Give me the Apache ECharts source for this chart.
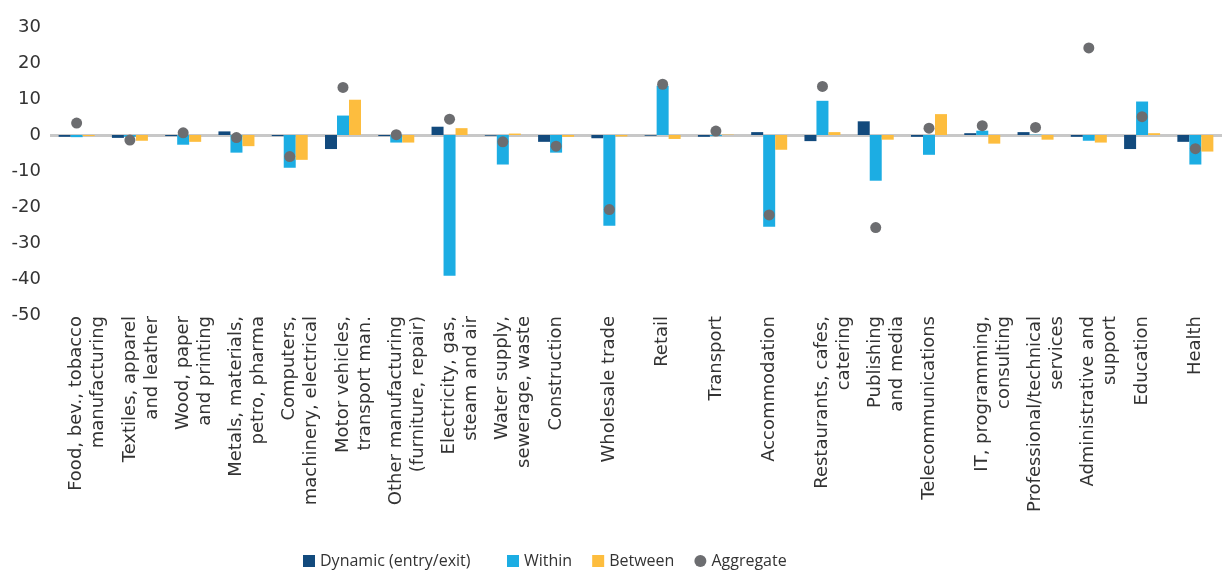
<!DOCTYPE html>
<html>
<head>
<meta charset="utf-8">
<script src="https://cdn.jsdelivr.net/npm/echarts@6/dist/echarts.min.js"></script>
<style>
  html, body { margin: 0; padding: 0; background: #fff; }
  #myChart { width: 1225px; height: 571px; }
</style>
</head>
<body>
<div id="myChart"></div>
<script>
// sectors on the x axis
var categories = [
  'Food, bev., tobacco\nmanufacturing',
  'Textiles, apparel\nand leather',
  'Wood, paper\nand printing',
  'Metals, materials,\npetro, pharma',
  'Computers,\nmachinery, electrical',
  'Motor vehicles,\ntransport man.',
  'Other manufacturing\n(furniture, repair)',
  'Electricity, gas,\nsteam and air',
  'Water supply,\nsewerage, waste',
  'Construction',
  'Wholesale trade',
  'Retail',
  'Transport',
  'Accommodation',
  'Restaurants, cafes,\ncatering',
  'Publishing\nand media',
  'Telecommunications',
  'IT, programming,\nconsulting',
  'Professional/technical\nservices',
  'Administrative and\nsupport',
  'Education',
  'Health'
];

var dynamicVals = [-0.5, -0.8, -0.3, 1.0, -0.3, -3.9, -0.3, 2.3, -0.2, -1.9, -0.9, -0.2, -0.5, 0.8, -1.7, 3.8, -0.5, 0.5, 0.8, -0.5, -3.9, -1.9];
var withinVals = [-0.6, -0.5, -2.7, -4.9, -9.1, 5.4, -2.1, -39.1, -8.2, -4.9, -25.2, 13.7, -0.3, -25.5, 9.5, -12.7, -5.5, 1.2, 0.1, -1.6, 9.3, -8.2];
var betweenVals = [-0.3, -1.6, -1.9, -3.1, -6.9, 9.8, -2.1, 1.9, 0.4, -0.5, -0.4, -1.1, 0.1, -4.1, 0.8, -1.3, 5.8, -2.4, -1.3, -2.1, 0.5, -4.6];
var aggregateVals = [3.3, -1.4, 0.6, -0.7, -6.0, 13.2, 0.1, 4.4, -1.9, -3.1, -20.7, 14.1, 1.1, -22.2, 13.5, -25.7, 1.9, 2.6, 2.1, 24.2, 5.1, -3.8];

var yTicks = [-50, -40, -30, -20, -10, 0, 10, 20, 30];

var textColor = '#333333';
var fontName = 'DejaVu Sans';

var myChart = echarts.init(document.getElementById('myChart'));

// only the zero gridline is visible
var splitColors = yTicks.map(function (t) { return t === 0 ? '#c8c8c8' : 'rgba(0,0,0,0)'; });

// two-line labels: first line sits on the category centre, second to its right
var xData = categories.map(function (c) {
  return c.indexOf('\n') >= 0 ? '\n' + c : c;
});

var legendText = { fontSize: 15, color: textColor, fontFamily: 'Open Sans' };

var option = {
  animation: false,
  textStyle: { fontFamily: fontName },
  legend: [
    {
      top: 548,
      left: 298,
      itemWidth: 12,
      itemHeight: 12,
      textStyle: { fontSize: 16, color: textColor, fontFamily: 'Open Sans' },
      data: [{ name: 'Dynamic (entry/exit)', icon: 'rect' }]
    },
    {
      top: 548,
      left: 502,
      itemWidth: 12,
      itemHeight: 12,
      itemGap: 20,
      textStyle: { fontSize: 16, color: textColor, fontFamily: 'Open Sans' },
      data: [
        { name: 'Within', icon: 'rect' },
        { name: 'Between', icon: 'rect' },
        { name: 'Aggregate', icon: 'circle' }
      ]
    }
  ],
  grid: {
    left: 50,
    right: 3,
    top: 27,
    bottom: 256
  },
  xAxis: {
    type: 'category',
    data: xData,
    axisLine: { show: false, onZero: false },
    axisTick: { show: false },
    axisLabel: {
      interval: 0,
      rotate: 90,
      margin: 1,
      fontSize: 18,
      lineHeight: 22,
      color: textColor
    }
  },
  yAxis: {
    type: 'value',
    min: -50,
    max: 30,
    interval: 10,
    axisLine: { show: false },
    axisTick: { show: false },
    axisLabel: {
      fontSize: 18,
      color: textColor,
      margin: 9,
      padding: [0, 0, 7, 0]
    },
    splitLine: {
      show: true,
      lineStyle: { color: splitColors, width: 3 }
    }
  },
  series: [
    {
      name: 'Dynamic (entry/exit)',
      type: 'bar',
      data: dynamicVals,
      barWidth: 12,
      barGap: '0%',
      itemStyle: { color: '#124a7d' }
    },
    {
      name: 'Within',
      type: 'bar',
      data: withinVals,
      barWidth: 12,
      barGap: '0%',
      itemStyle: { color: '#1cade3' }
    },
    {
      name: 'Between',
      type: 'bar',
      data: betweenVals,
      barWidth: 12,
      barGap: '0%',
      itemStyle: { color: '#fdbd3e' }
    },
    {
      name: 'Aggregate',
      type: 'scatter',
      data: aggregateVals,
      symbolSize: 11,
      z: 5,
      itemStyle: { color: '#6c6d70', opacity: 1 }
    }
  ]
};

option && myChart.setOption(option);
</script>
</body>
</html>
